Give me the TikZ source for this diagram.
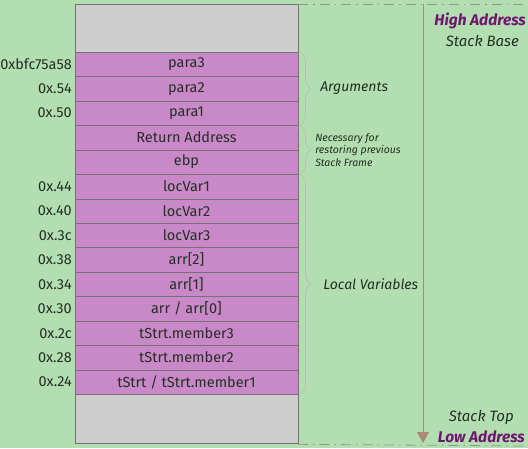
\documentclass[tikz,border=0pt]{standalone}
\usepackage{fontspec}
\setmainfont{Fira Sans}
\usetikzlibrary{positioning, decorations.pathreplacing, arrows.meta}
\definecolor{bgGreen}{RGB}{179,222,178}
\definecolor{cellPurple}{RGB}{201,136,199}
\definecolor{cellGray}{RGB}{205,205,205}
\definecolor{txtDark}{RGB}{36,48,36}
\definecolor{hiPurple}{RGB}{112,22,112}
\definecolor{arrBrown}{RGB}{168,140,118}
\definecolor{braceGray}{RGB}{182,188,178}
\definecolor{dashGray}{RGB}{140,152,140}
\tikzset{cell/.style={draw=black!55, fill=cellPurple, minimum width=223pt, minimum height=24.45pt,
    inner sep=0pt, outer sep=0pt, text=txtDark, font=\fontsize{14.5}{16}\selectfont}}
\tikzset{gapcell/.style={cell, fill=cellGray, minimum height=48pt}}
\tikzset{addr/.style={text=txtDark, font=\fontsize{14.5}{16}\selectfont, inner sep=0pt}}
\tikzset{brace/.style={decorate, decoration={brace, amplitude=11pt}, braceGray, semithick}}
\tikzset{bracetxt/.style={text=txtDark, font=\itshape\fontsize{14}{16}\selectfont, inner sep=0pt}}
\tikzset{endtxt/.style={font=\bfseries\itshape\fontsize{15.5}{17}\selectfont, inner sep=0pt}}
\tikzset{sidetxt/.style={text=txtDark, font=\itshape\fontsize{15}{17}\selectfont, inner sep=0pt}}
\tikzset{border/.style={dashGray, thick, dash pattern=on 10pt off 5pt on 1.5pt off 5pt}}

\begin{document}
\begin{tikzpicture}
  \fill[bgGreen] (0,0) rectangle (528pt,-448pt);
  \useasboundingbox (0,0) rectangle (528pt,-448pt);

  % stack frame
  \node[gapcell, anchor=north west] (r0) at (75pt,-4pt) {};
  \foreach \lbl [count=\i, remember=\i as \j (initially 0)] in
    {para3, para2, para1, Return Address, ebp, locVar1, locVar2, locVar3,
     {arr[2]}, {arr[1]}, {arr / arr[0]}, tStrt.member3, tStrt.member2, {tStrt / tStrt.member1}}
    \node[cell, below=0pt of r\j] (r\i) {\lbl};
  \node[gapcell, minimum height=49pt, below=0pt of r14] (r15) {};

  % addresses
  \foreach \i/\addr in {1/0xbfc75a58, 2/0x.54, 3/0x.50, 6/0x.44, 7/0x.40, 8/0x.3c,
      9/0x.38, 10/0x.34, 11/0x.30, 12/0x.2c, 13/0x.28, 14/0x.24}
    \node[addr, left=3pt of r\i] {\addr};

  % braces
  \draw[brace] ([xshift=2pt]r1.north east) -- ([xshift=2pt]r3.south east)
    node[bracetxt, midway, right=20pt] (args) {Arguments};
  \draw[brace] ([xshift=2pt]r4.north east) -- ([xshift=2pt]r5.south east)
    node[bracetxt, midway, right=15pt, align=left, font=\itshape\fontsize{10.5}{12.5}\selectfont] (frame)
    {Necessary for\\restoring previous\\Stack Frame};
  \draw[brace] ([xshift=2pt]r6.north east) -- ([xshift=2pt]r14.south east)
    node[bracetxt, midway, right=23pt] (locals) {Local Variables};

  % direction of growth
  \coordinate (topL) at (r0.north east);
  \coordinate (topR) at (528pt,-4pt);
  \coordinate (botL) at ([yshift=-1pt]r15.south east);
  \coordinate (botR) at (528pt,-446pt);
  \draw[border] (topL) -- (topR);
  \draw[border] (botL) -- (botR);
  \coordinate (arrTop) at (423pt,-4pt);
  \coordinate (arrBot) at (423pt,-443pt);
  \draw[arrBrown, thick, -{Triangle[width=12pt,length=11pt]}] (arrTop) -- (arrBot);

  \node[endtxt, hiPurple, anchor=base east] (high) at (526pt,-25pt) {High Address};
  \node[sidetxt, anchor=base east] (base) at (519pt,-46pt) {Stack Base};
  \node[endtxt, hiPurple, anchor=base east] (low) at (525pt,-442pt) {Low Address};
  \node[sidetxt, anchor=base east] (top) at (514pt,-421pt) {Stack Top};
\end{tikzpicture}
\end{document}
